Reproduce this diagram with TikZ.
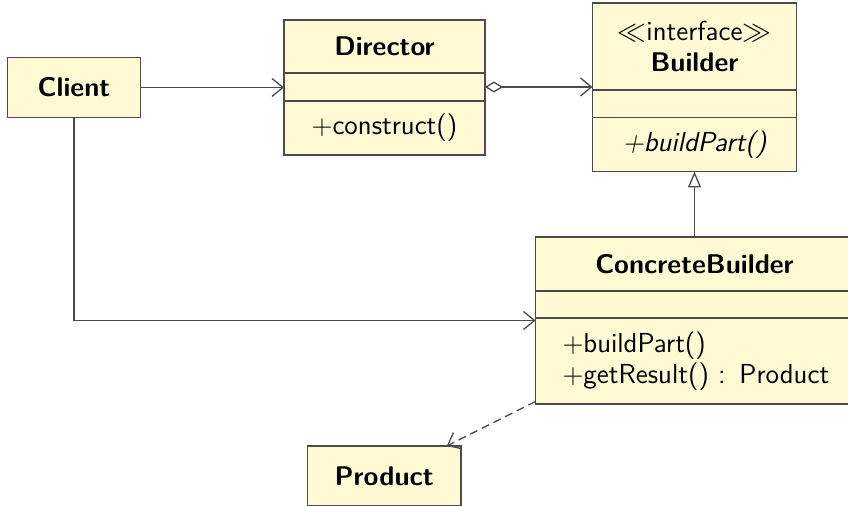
\documentclass[tikz,border=0pt]{standalone}
\usepackage{fontspec}
\usetikzlibrary{arrows.meta,calc}
\definecolor{umlfill}{RGB}{255,250,212}
\definecolor{umlline}{RGB}{75,75,75}
\begin{document}
\begin{tikzpicture}[x=0.5pt,y=-0.5pt,
  every node/.style={font=\sffamily\fontsize{13.75}{15.5}\selectfont},
  box/.style={draw=umlline,fill=umlfill,line width=0.65pt,inner sep=0pt,outer sep=0pt,anchor=north west,align=center},
  ttl/.style={font=\sffamily\bfseries\fontsize{13.5}{16}\selectfont},
  conn/.style={draw=umlline,line width=0.65pt},
  assoc/.style={conn,-{Straight Barb[length=5.5pt,width=9pt]}},
  agg/.style={conn,{Diamond[open,length=9pt,width=5.5pt]}-{Straight Barb[length=5.5pt,width=9pt]}},
  inherit/.style={conn,-{Triangle[open,length=8pt,width=6.5pt]}},
  dep/.style={conn,dash pattern=on 4pt off 2.5pt,-{Straight Barb[length=5.5pt,width=9pt]}}]
\useasboundingbox (0,0) rectangle (848,506);
\clip (0,0) rectangle (848,506);
\fill[white] (0,0) rectangle (848,506);
% Client
\node[box,ttl,minimum width=66.5pt,minimum height=30pt] (client) at (7.5,57.5) {Client};
% Director
\node[box,ttl,minimum width=100.5pt,minimum height=26.5pt] (dirT) at (284,20) {Director};
\node[box,minimum width=100.5pt,minimum height=14pt] (dirA) at (dirT.south west) {};
\node[box,minimum width=100.5pt,minimum height=27pt] (dirM) at (dirA.south west) {+construct()};
% Builder
\node[box,minimum width=102pt,minimum height=43.5pt,text depth=0pt] (bT) at (592.5,3) {$\ll$interface$\gg$\\{\bfseries\fontsize{13.5}{16}\selectfont Builder}};
\node[box,minimum width=102pt,minimum height=13.75pt] (bA) at (bT.south west) {};
\node[box,minimum width=102pt,minimum height=27pt] (bM) at (bA.south west) {\itshape +buildPart()};
% ConcreteBuilder
\node[box,ttl,minimum width=159pt,minimum height=27pt] (cbT) at (535.5,237) {ConcreteBuilder};
\node[box,minimum width=159pt,minimum height=13.5pt] (cbA) at (cbT.south west) {};
\node[box,minimum width=159pt,minimum height=43pt,text width=145pt,inner xsep=13.5pt,align=left] (cbM) at (cbA.south west) {+buildPart()\\+getResult() : Product};
% Product
\node[box,ttl,minimum width=76.75pt,minimum height=30pt] (product) at (307.5,446) {Product};
% connectors
\draw[assoc] (client.east) -- (client.east -| dirA.west);
\draw[agg] (dirA.east) -- (dirA.east -| bT.west);
\draw[inherit] (cbT.north) -- (bM.south);
\draw[assoc] (client.south) |- ([yshift=-1.25pt]cbM.north west);
\draw[dep] ([yshift=1.25pt]cbM.south west) -- ([xshift=31.25pt]product.north);
\end{tikzpicture}
\end{document}
